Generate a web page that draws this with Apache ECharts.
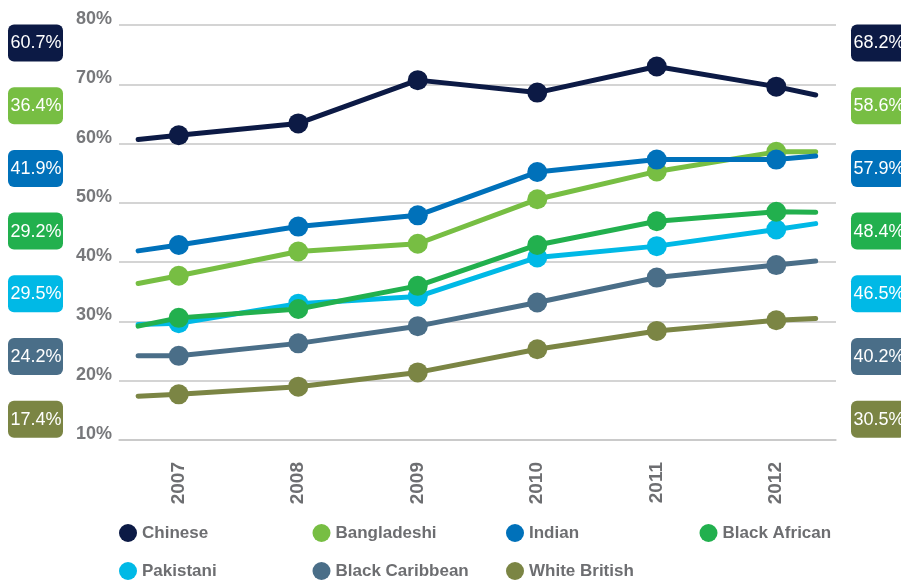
<!DOCTYPE html>
<html>
<head>
<meta charset="utf-8">
<script src="https://cdn.jsdelivr.net/npm/echarts@6/dist/echarts.min.js"></script>
<style>
  html, body { margin: 0; padding: 0; background: #fff; }
  #chart { width: 901px; height: 580px; }
</style>
</head>
<body>
<div id="chart"></div>
<script>
const years = ['2007', '2008', '2009', '2010', '2011', '2012']
const groups = ['Chinese', 'Bangladeshi', 'Indian', 'Black African', 'Pakistani', 'Black Caribbean', 'White British']

// yearly values, %
const chinese = [61.4, 63.4, 70.7, 68.6, 73.0, 69.6]
const bangladeshi = [37.7, 41.8, 43.1, 50.6, 55.3, 58.6]
const indian = [42.9, 46.0, 47.9, 55.2, 57.3, 57.3]
const blackAfrican = [30.6, 32.1, 36.0, 42.9, 46.9, 48.5]
const pakistani = [29.7, 33.0, 34.2, 40.8, 42.7, 45.5]
const blackCaribbean = [24.2, 26.3, 29.2, 33.2, 37.4, 39.5]
const whiteBritish = [17.7, 19.0, 21.4, 25.3, 28.4, 30.2]

// values shown in the side boxes (line ends)
const startValues = [60.7, 36.4, 41.9, 29.2, 29.5, 24.2, 17.4]
const endValues = [68.2, 58.6, 57.9, 48.4, 46.5, 40.2, 30.5]

const yearValues = [chinese, bangladeshi, indian, blackAfrican, pakistani, blackCaribbean, whiteBritish]

const colors = ['#0c1a45', '#77be43', '#0071ba', '#22b04e', '#00b9e6', '#4a6e88', '#7b8544']
const font = "'Liberation Sans', Arial, sans-serif"

const lineStartX = 2006.66
const lineEndX = 2012.33

// one legend per entry, laid out in a 4-column grid
function legendItem(name, i) {
  return {
    data: [name],
    left: 119 + (i % 4) * 193.5,
    top: 524 + Math.floor(i / 4) * 38,
    padding: 0,
    icon: 'circle',
    itemWidth: 18,
    itemHeight: 18,
    itemGap: 6,
    selectedMode: false,
    textStyle: {
      fontSize: 17,
      fontWeight: 'bold',
      fontFamily: font,
      color: '#6d6e71'
    }
  }
}

function initChart() {
  const myChart = echarts.init(document.getElementById('chart'))

  const series = groups.map((name, i) => {
    const data = [{ value: [lineStartX, startValues[i]], symbol: 'none' }]
    yearValues[i].forEach((v, k) => {
      data.push({ value: [Number(years[k]), v] })
    })
    data.push({ value: [lineEndX, endValues[i]], symbol: 'none' })
    return {
      name: name,
      type: 'line',
      xAxisIndex: 1,
      data: data,
      z: name === 'Pakistani' ? 1 : 2,
      symbol: 'circle',
      symbolSize: 20,
      showAllSymbol: true,
      color: colors[i],
      itemStyle: { color: colors[i] },
      lineStyle: { width: 5, color: colors[i], cap: 'round', join: 'round' },
      emphasis: { disabled: true },
      animation: false
    }
  })

  // side boxes with start / end values
  const graphic = []
  groups.forEach((name, i) => {
    const top = 24.5 + i * 62.7
    ;[[8, startValues[i]], [851, endValues[i]]].forEach(([left, v]) => {
      graphic.push({
        type: 'rect',
        left: left,
        top: top,
        shape: { width: 55, height: 37, r: 6 },
        style: { fill: colors[i] }
      })
      graphic.push({
        type: 'text',
        x: left + 28,
        y: top + 19,
        style: {
          text: v.toFixed(1) + '%',
          fill: '#fff',
          font: '18px ' + font,
          align: 'center',
          verticalAlign: 'middle'
        }
      })
    })
  })

  const option = {
    animation: false,
    grid: { left: 119, right: 65, top: 25, bottom: 140, containLabel: false },
    legend: groups.map(legendItem),
    xAxis: [
      {
        type: 'category',
        data: years,
        boundaryGap: true,
        axisLine: { lineStyle: { color: '#c6c6c6', width: 1.5 } },
        axisTick: { length: 13, lineStyle: { color: '#c6c6c6', width: 1.5 } },
        axisLabel: {
          rotate: 90,
          margin: 22,
          fontSize: 19,
          fontWeight: 'bold',
          fontFamily: font,
          color: '#6d6e71'
        }
      },
      {
        type: 'value',
        min: 2006.5,
        max: 2012.5,
        show: false
      }
    ],
    yAxis: {
      type: 'value',
      min: 10,
      max: 80,
      interval: 10,
      axisLine: { show: false },
      axisTick: { show: false },
      splitLine: { lineStyle: { color: '#c6c6c6', width: 1.5 } },
      axisLabel: {
        formatter: '{value}%',
        margin: 7,
        verticalAlign: 'bottom',
        padding: [0, 0, -3, 0],
        fontSize: 18,
        fontWeight: 'bold',
        fontFamily: font,
        color: '#77787b'
      }
    },
    graphic: graphic,
    series: series
  }

  myChart.setOption(option, true)
}

initChart()
</script>
</body>
</html>
